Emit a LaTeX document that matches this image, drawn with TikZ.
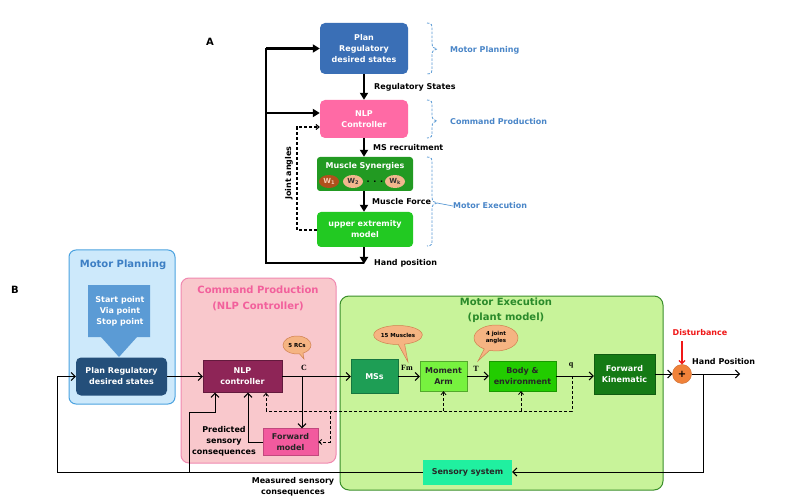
\documentclass[tikz,border=0pt]{standalone}
\usepackage{fontspec}
\setmainfont{DejaVu Sans}
\newfontfamily\serifb{Liberation Serif}
\usetikzlibrary{arrows.meta,shapes.geometric,shapes.callouts,decorations.pathreplacing,calc}
\definecolor{planblue}{HTML}{3A6FB6}
\definecolor{nlppink}{HTML}{FF6AA5}
\definecolor{msgreen}{HTML}{229A22}
\definecolor{uegreen}{HTML}{22C922}
\definecolor{wdark}{HTML}{B0501C}
\definecolor{wlight}{HTML}{F2B78E}
\definecolor{braceblue}{HTML}{5B9BD5}
\definecolor{labblue}{HTML}{4A86C8}
\definecolor{mpfill}{HTML}{CDE9FB}
\definecolor{mpdraw}{HTML}{4CA3E0}
\definecolor{mptitle}{HTML}{3D7FC4}
\definecolor{bigarrow}{HTML}{5B9BD5}
\definecolor{navy}{HTML}{244F7A}
\definecolor{cpfill}{HTML}{F9C8CC}
\definecolor{cpdraw}{HTML}{F088B0}
\definecolor{cptitle}{HTML}{F2609C}
\definecolor{nlpdark}{HTML}{8E2557}
\definecolor{fwdpink}{HTML}{F25A9E}
\definecolor{mefill}{HTML}{C8F39A}
\definecolor{medraw}{HTML}{3A8F2A}
\definecolor{metitle}{HTML}{2A8A2A}
\definecolor{msB}{HTML}{1E9E55}
\definecolor{momfill}{HTML}{77F23F}
\definecolor{bodyfill}{HTML}{22CC00}
\definecolor{fkfill}{HTML}{157A15}
\definecolor{sensfill}{HTML}{20F0A0}
\definecolor{calloutF}{HTML}{F5B482}
\definecolor{calloutB}{HTML}{D08050}
\definecolor{sumor}{HTML}{F0823A}
\definecolor{distred}{HTML}{F01818}
\newcommand\mybracedraw[4]{% x, top, bottom, tip y
 \draw[brcs] (#1,#2) .. controls (#1+5,#2) and (#1+5,#2+2) .. (#1+5,#2+7) -- (#1+5,#4-6) .. controls (#1+5,#4-2) and (#1+7,#4) .. (#1+10,#4) .. controls (#1+7,#4) and (#1+5,#4+2) .. (#1+5,#4+6) -- (#1+5,#3-7) .. controls (#1+5,#3-2) and (#1+5,#3) .. (#1,#3);}
\begin{document}
\begin{tikzpicture}[x=1pt,y=-1pt,
 bx/.style={inner sep=0pt, align=center, font=\fontsize{8}{11}\selectfont\bfseries, text=white},
 thk/.style={line width=2.4pt, -{Triangle[length=7pt,width=8pt]}},
 thkl/.style={line width=2.4pt},
 ar/.style={line width=1pt, -{Straight Barb[length=4pt,width=8pt]}},
 ln/.style={line width=1pt},
 dsh/.style={line width=0.8pt, dash pattern=on 3pt off 2pt},
 dar/.style={dsh, -{Straight Barb[length=3pt,width=5pt]}},
 lbl/.style={font=\fontsize{8}{10}\selectfont\bfseries, inner sep=0pt},
 blbl/.style={lbl, text=labblue, anchor=west},
 srf/.style={font=\serifb\fontsize{8}{10}\selectfont\bfseries, inner sep=0pt},
 brcs/.style={draw=braceblue, line width=0.8pt, dash pattern=on 2.5pt off 1.5pt},
 call/.style={ellipse callout, draw=calloutB, fill=calloutF, line width=0.5pt, inner sep=0pt, font=\fontsize{5.5}{7}\selectfont\bfseries, align=center},
 wel/.style={ellipse, inner sep=0pt, minimum width=20pt, minimum height=13pt, font=\fontsize{7}{8}\selectfont\bfseries},
]
\useasboundingbox (0,0) rectangle (806,497);
\fill[white] (0,0) rectangle (806,497);

% ================= Part A =================
\node[lbl, font=\fontsize{10}{12}\selectfont\bfseries] (labA) at (210,42) {A};
\node[bx, fill=planblue, rounded corners=5pt, minimum width=88pt, minimum height=51pt] (planA) at (364,48.5) {Plan\\Regulatory\\desired states};
\node[bx, fill=nlppink, rounded corners=5pt, minimum width=88pt, minimum height=38pt] (nlpA) at (364,119) {NLP\\Controller};
\node[bx, fill=msgreen, rounded corners=3pt, minimum width=96pt, minimum height=34pt] (msA) at (365,174) {};
\node[bx] (msT) at (365,166.5) {Muscle Synergies};
\node[wel, fill=wdark, text=wlight!70!white] (w1) at (329,181.5) {W\raisebox{-1pt}{\fontsize{5}{5}\selectfont 1}};
\node[wel, fill=wlight, text=black!80] (w2) at (353,181.5) {W\raisebox{-1pt}{\fontsize{5}{5}\selectfont 2}};
\node[lbl, text=black] (wdots) at (375,182) {. . .};
\node[wel, fill=wlight, text=black!80] (wk) at (395,181.5) {W\raisebox{-1pt}{\fontsize{5}{5}\selectfont k}};
\node[bx, fill=uegreen, rounded corners=4pt, minimum width=96pt, minimum height=35pt] (ueA) at (365,229.5) {upper extremity\\model};

\draw[thk] (planA.south) -- (nlpA.north);
\draw[thk] (nlpA.south) -- (nlpA.south |- msA.north);
\draw[thk] (nlpA.south |- msA.south) -- (nlpA.south |- ueA.north);
\coordinate (hA) at (364,264);
\coordinate (fbA) at (266,263);
\draw[thk] (nlpA.south |- ueA.south) -- (hA);
\draw[thkl] (364,263) -- (fbA) -- (fbA |- planA.west);
\draw[thk] (fbA |- planA.west) -- (planA.west);
\draw[thk] ($(fbA |- nlpA.west)+(0,-6)$) -- ($(nlpA.west)+(0,-6)$);
\coordinate (jaA) at (297,230);
\draw[dar, line width=1.1pt] (ueA.west |- jaA) -- (jaA) |- ($(nlpA.west)+(0,8)$);
\node[lbl, rotate=90] (jaLab) at (289,173) {Joint angles};

\node[lbl, anchor=west] (rsLab) at (374,87) {Regulatory States};
\node[lbl, anchor=west] (msrLab) at (373,148) {MS recruitment};
\node[lbl, anchor=west] (mfLab) at (372,202) {Muscle Force};
\node[lbl, anchor=west] (hpLab) at (374,263) {Hand position};

\mybracedraw{427}{23}{74}{49}
\mybracedraw{427}{100}{138}{121}
\mybracedraw{427}{157}{246}{203}
\node[blbl] (mpA) at (450,50) {Motor Planning};
\node[blbl] (cpA) at (450,122) {Command Production};
\node[blbl] (meA) at (453,206) {Motor Execution};
\coordinate (b3tip) at (437,203);
\draw[braceblue, line width=0.7pt] (b3tip) -- (meA.west);

% ================= Part B =================
\node[lbl, font=\fontsize{10}{12}\selectfont\bfseries] (labB) at (15,290) {B};

% backgrounds
\node[draw=mpdraw, fill=mpfill, line width=1pt, rounded corners=7pt, minimum width=106pt, minimum height=154pt] (mpBox) at (122,327) {};
\node[draw=cpdraw, fill=cpfill, line width=1pt, rounded corners=8pt, minimum width=155pt, minimum height=185pt] (cpBox) at (258.5,370.5) {};
\node[draw=medraw, fill=mefill, line width=1pt, rounded corners=9pt, minimum width=323pt, minimum height=194pt] (meBox) at (501.5,393) {};

\node[lbl, text=mptitle, font=\fontsize{10}{12}\selectfont\bfseries] (mpT) at (123,265) {Motor Planning};
\node[lbl, text=cptitle, font=\fontsize{10}{16}\selectfont\bfseries, align=center] (cpT) at (258,298) {Command Production\\(NLP Controller)};
\node[lbl, text=metitle, font=\fontsize{10}{15}\selectfont\bfseries, align=center] (meT) at (506,310.5) {Motor Execution\\(plant model)};

% big arrow
\fill[bigarrow] (88,285) -- (150,285) -- (150,337) -- (137,337) -- (119,357) -- (101,337) -- (88,337) -- cycle;
\node[bx] (spts) at (120,311) {Start point\\Via point\\Stop point};

\node[bx, fill=navy, rounded corners=5pt, minimum width=91pt, minimum height=38pt] (planRB) at (121.5,376.5) {Plan Regulatory\\desired states};
\node[bx, fill=nlpdark, draw=nlpdark!70!black, minimum width=79pt, minimum height=32pt] (nlpB) at (242.5,376.5) {NLP\\controller};
\node[bx, fill=fwdpink, draw=fwdpink!80!black, text=black!85, minimum width=55pt, minimum height=27pt] (fwdB) at (290.5,442) {Forward\\model};
\node[bx, fill=msB, draw=msB!75!black, minimum width=47pt, minimum height=34pt] (msBn) at (374.5,376.5) {MSs};
\node[bx, fill=momfill, draw=momfill!70!black, text=black!85, minimum width=47pt, minimum height=30pt] (momB) at (443.5,376) {Moment\\Arm};
\node[bx, fill=bodyfill, draw=bodyfill!75!black, text=black!85, minimum width=67pt, minimum height=30pt] (bodyB) at (522.5,376) {Body \&\\environment};
\node[bx, fill=fkfill, draw=fkfill!75!black, minimum width=61pt, minimum height=40pt] (fkB) at (624.5,374) {Forward\\Kinematic};
\node[circle, fill=sumor, draw=sumor!85!black, minimum size=19pt, inner sep=0pt, font=\fontsize{10}{10}\selectfont\bfseries] (sumB) at (682,374) {+};
\node[bx, fill=sensfill, text=black!85, minimum width=89pt, minimum height=25pt] (sensB) at (467.5,472) {Sensory system};

% callouts
\node[call, minimum width=28pt, minimum height=18pt, callout absolute pointer={(304,359)}] (rcC) at (297,345) {5 RCs};
\node[call, minimum width=48pt, minimum height=19pt, callout absolute pointer={(408,362)}] (mscC) at (398,335) {15 Muscles};
\node[call, minimum width=44pt, minimum height=26pt, callout absolute pointer={(478,361)}] (jaC) at (496,338) {4 joint\\angles};

% labels
\node[srf] (cLab) at (304,368) {C};
\node[srf] (fmLab) at (407,368) {Fm};
\node[srf] (tLab) at (476,369) {T};
\node[srf] (qLab) at (571,365) {q};
\node[lbl, text=distred] (distLab) at (700,333) {Disturbance};
\node[lbl, anchor=west] (hpB) at (692,362) {Hand Position};
\node[lbl, align=center, font=\fontsize{8}{11}\selectfont\bfseries] (predLab) at (224,441.5) {Predicted\\sensory\\consequences};
\node[lbl, align=center, font=\fontsize{8}{11}\selectfont\bfseries] (measLab) at (293,486.5) {Measured sensory\\consequences};

% connectors
\draw[ar] (planRB.east) -- (nlpB.west);
\draw[ar] (nlpB.east) -- (msBn.west);
\coordinate (cB) at (302,376.5);
\draw[ar] (cB) -- (cB |- fwdB.north);
\draw[ar] (fwdB.west) -| ($(nlpB.south)+(5.5,0)$);
\draw[ar] (msBn.east) -- (msBn.east -| momB.west);
\draw[ar] (momB.east) -- (bodyB.west);
\draw[ar] (bodyB.east) -- (bodyB.east -| fkB.west);
\draw[ar] (fkB.east |- sumB.west) -- (sumB.west);
\coordinate (hpEnd) at (740,374);
\draw[ar] (sumB.east) -- (hpEnd);
\coordinate (distTop) at (682,341);
\draw[distred, line width=1.2pt, -{Straight Barb[length=3pt,width=6pt]}] (distTop) -- (sumB.north);
\coordinate (fbB) at (703,374);
\draw[ar] (fbB) |- (sensB.east);
\coordinate (fbL) at (57,472);
\draw[ar] (sensB.west) -- (fbL) |- (planRB.west);
\coordinate (br1) at (189,472);
\coordinate (br2) at (189,412);
\draw[ar] (br1) -- (br2) -| ($(nlpB.south)+(-27.5,0)$);

% dashed feedback
\coordinate (qB) at (572,376);
\coordinate (dl) at (0,411);
\draw[dsh] (qB) -- (qB |- dl) -- (266,411);
\draw[dar] (266,411) -- ($(nlpB.south)+(23.5,0)$);
\draw[dar] (momB.south |- dl) -- (momB.south);
\draw[dar] (521,411) -- (521,391);
\draw[dar] (330,411) |- (fwdB.east);
\end{tikzpicture}
\end{document}
